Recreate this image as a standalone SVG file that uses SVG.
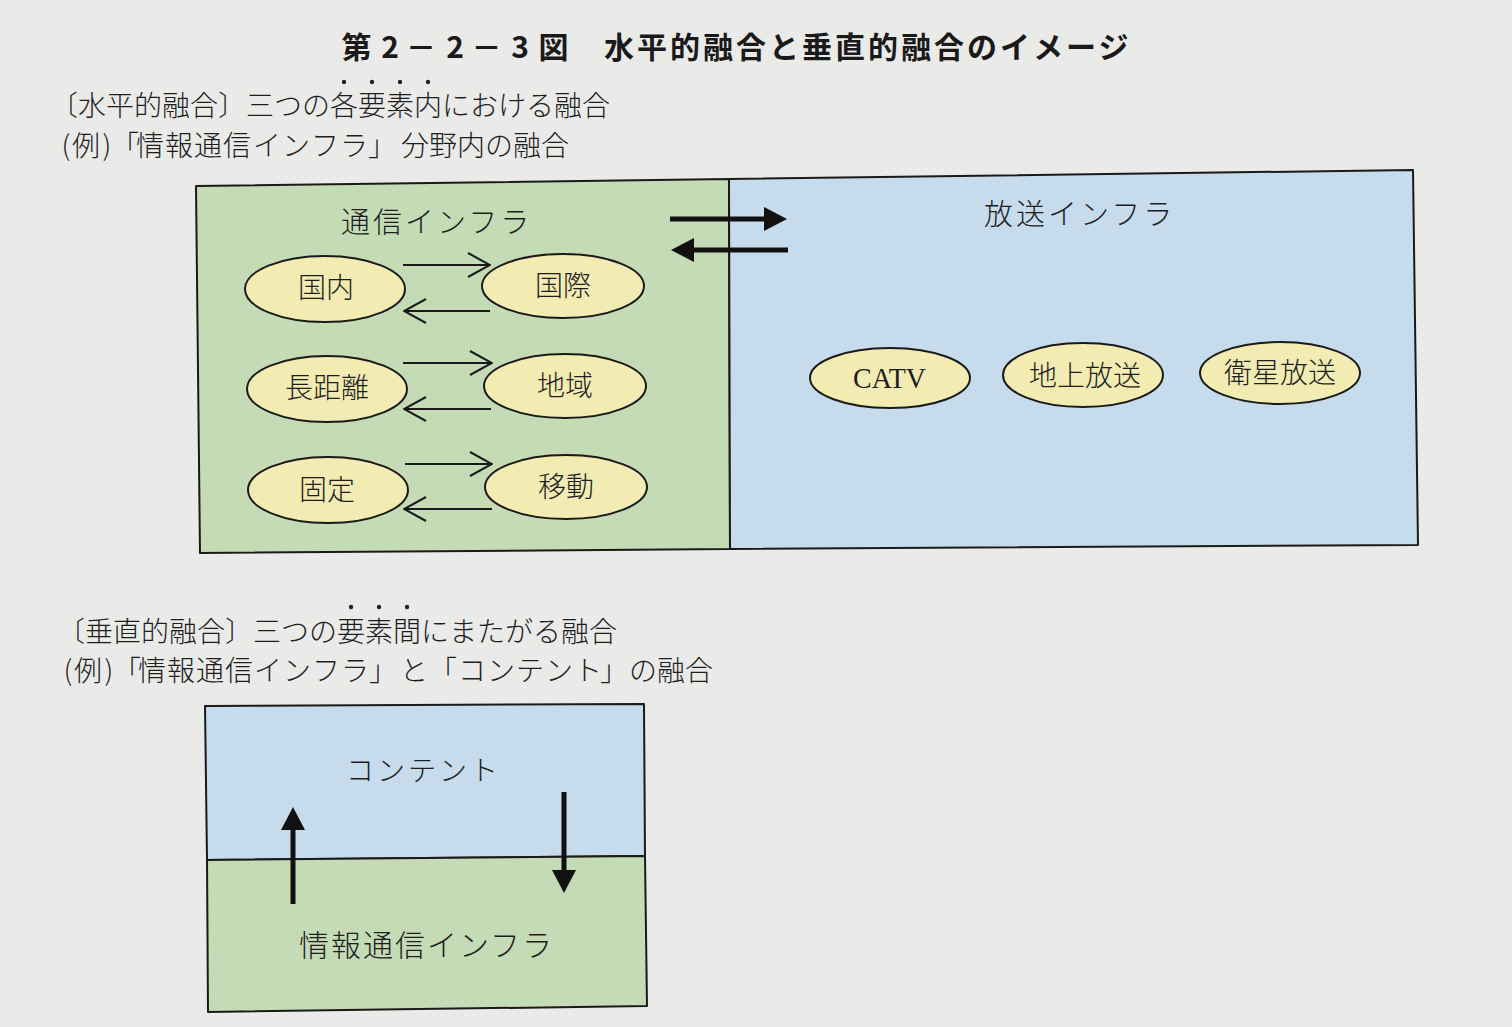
<svg xmlns="http://www.w3.org/2000/svg" width="1512" height="1027" viewBox="0 0 1512 1027">
<style>
.jp{font-family:"Noto Sans CJK JP","Noto Sans CJK SC",sans-serif;fill:#1e1e1e;font-weight:300}
.title{font-family:"Noto Sans CJK JP","Noto Sans CJK SC",sans-serif;font-weight:700;font-size:30px;fill:#1a1a1a}
.cap{font-size:28px}
.lbl{font-size:28px}
.box{stroke:#1a1a1a;stroke-width:2;stroke-linejoin:round}
.green{fill:#c4dbb6}
.blue{fill:#c6dcec}
.ell{fill:#f2ebb2;stroke:#1a1a1a;stroke-width:2}
.thin{stroke:#1a1a1a;stroke-width:2;fill:none}
.thick{stroke:#111;stroke-width:5;fill:none}
.dot{fill:#222}
</style>
<defs>
<marker id="open" viewBox="0 0 24 26" refX="23" refY="13" markerWidth="24" markerHeight="26" markerUnits="userSpaceOnUse" orient="auto">
<path d="M1,1 L23,13 L1,25" fill="none" stroke="#1a1a1a" stroke-width="2"/>
</marker>
<marker id="solid" viewBox="0 0 23 24" refX="0" refY="12" markerWidth="23" markerHeight="24" markerUnits="userSpaceOnUse" orient="auto">
<path d="M0,0 L23,12 L0,24 Z" fill="#111"/>
</marker>
</defs>
<rect x="0" y="0" width="1512" height="1027" fill="#eaeae9"/>

<g id="title">
<text class="title" y="58" text-anchor="middle" x="356.5 390 421 455 486.5 520 553.5">第2－2－3図</text>
<text class="title" x="604" y="58" letter-spacing="3">水平的融合と垂直的融合のイメージ</text>
</g>

<g id="caption-horizontal">
<text class="jp cap" x="50" y="116">〔水平的融合〕三つの各要素内における融合</text>
<circle class="dot" cx="344" cy="82" r="2.2"/>
<circle class="dot" cx="372" cy="82" r="2.2"/>
<circle class="dot" cx="400" cy="82" r="2.2"/>
<circle class="dot" cx="428" cy="82" r="2.2"/>
<text class="jp cap" y="156" text-anchor="middle" x="66 86 107 125 150 179 208 237 267 296 325 354 382 415 443 471 499 527 555">(例)「情報通信インフラ」分野内の融合</text>
</g>

<g id="box-tsushin">
<polygon class="box green" points="196,186 729,179 730,549 200,553"/>
<text class="jp" x="341" y="233" font-size="29" letter-spacing="3">通信インフラ</text>
</g>
<g id="box-hoso">
<polygon class="box blue" points="729,179 1413,170 1418,545 730,549"/>
<text class="jp" x="984" y="225" font-size="29" letter-spacing="3">放送インフラ</text>
</g>

<g id="node-kokunai"><ellipse class="ell" cx="325" cy="289" rx="80" ry="33"/><text class="jp lbl" x="326" y="298" text-anchor="middle">国内</text></g>
<g id="node-kokusai"><ellipse class="ell" cx="563" cy="286" rx="81" ry="32"/><text class="jp lbl" x="563" y="296" text-anchor="middle">国際</text></g>
<g id="node-chokyori"><ellipse class="ell" cx="327" cy="389" rx="80" ry="33"/><text class="jp lbl" x="327" y="398" text-anchor="middle">長距離</text></g>
<g id="node-chiiki"><ellipse class="ell" cx="565" cy="386" rx="81" ry="32"/><text class="jp lbl" x="565" y="396" text-anchor="middle">地域</text></g>
<g id="node-kotei"><ellipse class="ell" cx="328" cy="490" rx="80" ry="33"/><text class="jp lbl" x="327" y="500" text-anchor="middle">固定</text></g>
<g id="node-ido"><ellipse class="ell" cx="566" cy="487" rx="81" ry="32"/><text class="jp lbl" x="566" y="497" text-anchor="middle">移動</text></g>

<g id="node-catv"><ellipse class="ell" cx="890" cy="378" rx="80" ry="30"/><text x="853" y="388" font-family="'Liberation Serif',serif" font-size="30" fill="#1e1e1e" textLength="73" lengthAdjust="spacingAndGlyphs">CATV</text></g>
<g id="node-chijo"><ellipse class="ell" cx="1083" cy="375" rx="80" ry="32"/><text class="jp lbl" x="1085" y="386" text-anchor="middle">地上放送</text></g>
<g id="node-eisei"><ellipse class="ell" cx="1280" cy="373" rx="80" ry="31"/><text class="jp lbl" x="1280" y="383" text-anchor="middle">衛星放送</text></g>

<g id="caption-vertical">
<text class="jp cap" x="57" y="642">〔垂直的融合〕三つの要素間にまたがる融合</text>
<circle class="dot" cx="351" cy="607" r="2.2"/>
<circle class="dot" cx="379" cy="607" r="2.2"/>
<circle class="dot" cx="407" cy="607" r="2.2"/>
<text class="jp cap" y="681" text-anchor="middle" x="68 88 109 127 152 181 210 239 268 297 326 355 383 414 443 472 501 530 559 588 614 643 671 699">(例)「情報通信インフラ」と「コンテント」の融合</text>
</g>

<g id="box-content">
<polygon class="box blue" points="205,706 644,704 645,856 207,860"/>
<text class="jp" x="346" y="781" font-size="28" letter-spacing="3">コンテント</text>
</g>
<g id="box-infra">
<polygon class="box green" points="207,860 645,856 647,1006 208,1012"/>
<text class="jp" x="299" y="956" font-size="30" letter-spacing="2">情報通信インフラ</text>
</g>

<g id="connectors">
<line class="thin" x1="403" y1="265" x2="490" y2="265" marker-end="url(#open)"/>
<line class="thin" x1="490" y1="311" x2="404" y2="311" marker-end="url(#open)"/>
<line class="thin" x1="403" y1="363" x2="492" y2="363" marker-end="url(#open)"/>
<line class="thin" x1="491" y1="409" x2="404" y2="409" marker-end="url(#open)"/>
<line class="thin" x1="405" y1="464" x2="492" y2="464" marker-end="url(#open)"/>
<line class="thin" x1="492" y1="509" x2="404" y2="509" marker-end="url(#open)"/>
<line class="thick" x1="670" y1="219" x2="764" y2="219" marker-end="url(#solid)"/>
<line class="thick" x1="788" y1="250" x2="694" y2="250" marker-end="url(#solid)"/>
<line class="thick" x1="293" y1="904" x2="293" y2="830" marker-end="url(#solid)"/>
<line class="thick" x1="564" y1="792" x2="564" y2="870" marker-end="url(#solid)"/>
</g>
</svg>
